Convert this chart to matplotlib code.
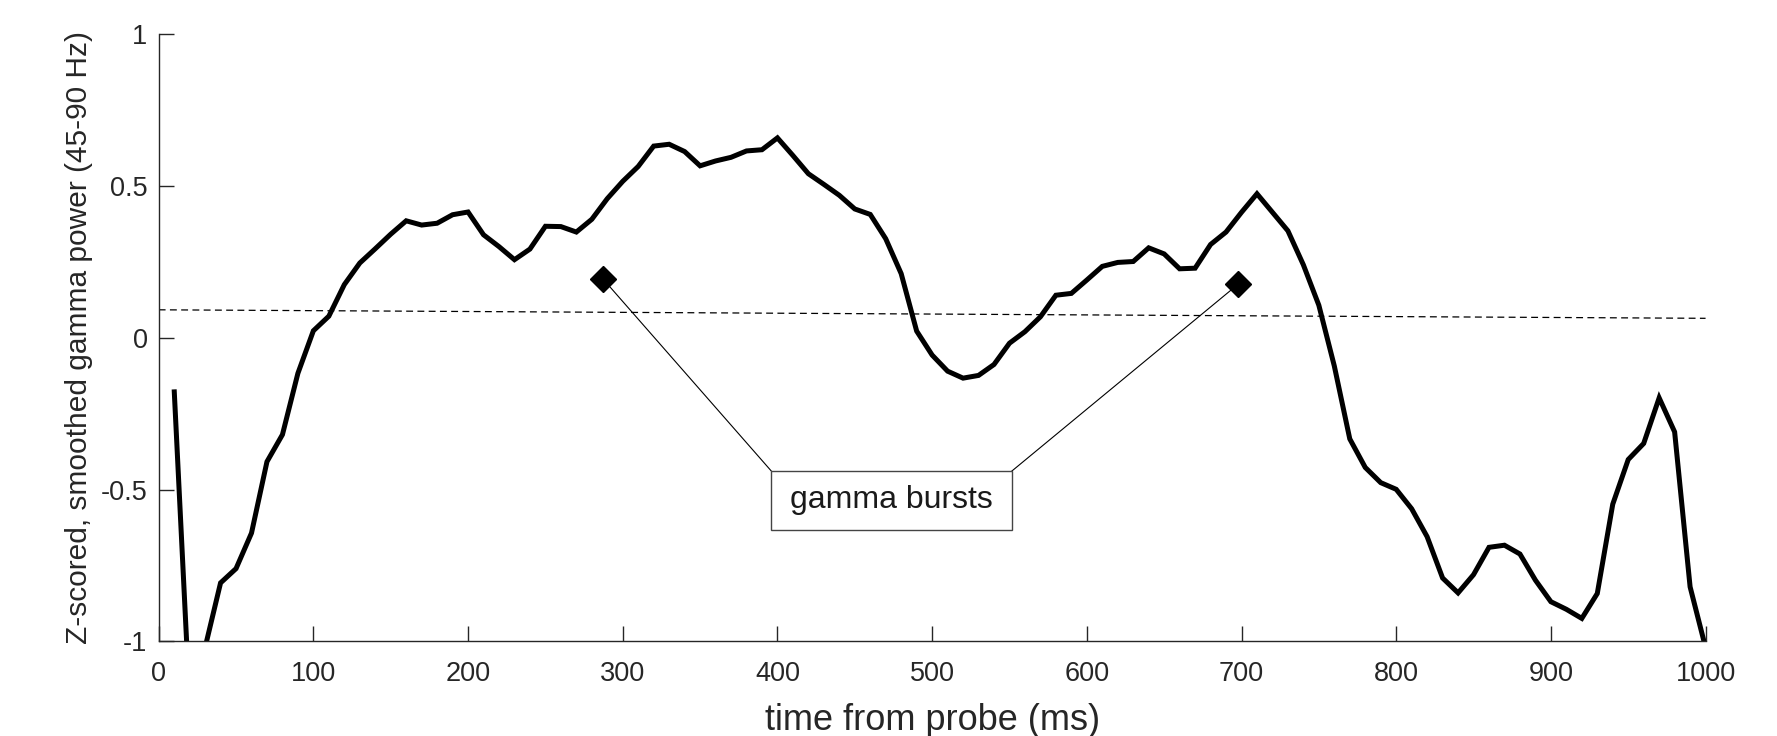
import numpy as np
import matplotlib
matplotlib.use('Agg')
import matplotlib.pyplot as plt
from matplotlib.patches import Rectangle

plt.rcParams['font.family'] = ['Liberation Sans', 'DejaVu Sans']

# z-scored gamma power, one sample every 10 ms
time_ms = np.arange(10, 1001, 10)
gamma_z = [
    -0.17, -1.20, -1.02, -0.807, -0.76, -0.643, -0.408, -0.319, -0.117, 0.023,
    0.071, 0.175, 0.246, 0.293, 0.341, 0.385, 0.371, 0.377, 0.405, 0.414,
    0.339, 0.300, 0.257, 0.292, 0.367, 0.366, 0.348, 0.390, 0.458, 0.515,
    0.564, 0.631, 0.637, 0.613, 0.566, 0.582, 0.594, 0.615, 0.619, 0.658,
    0.600, 0.540, 0.505, 0.469, 0.424, 0.406, 0.326, 0.211, 0.022, -0.057,
    -0.110, -0.133, -0.124, -0.088, -0.018, 0.020, 0.069, 0.140, 0.146, 0.190,
    0.235, 0.248, 0.251, 0.296, 0.276, 0.227, 0.229, 0.307, 0.348, 0.413,
    0.474, 0.413, 0.352, 0.240, 0.107, -0.093, -0.333, -0.427, -0.477, -0.499,
    -0.563, -0.655, -0.791, -0.840, -0.780, -0.690, -0.683, -0.712, -0.798, -0.869,
    -0.894, -0.924, -0.842, -0.548, -0.401, -0.348, -0.198, -0.310, -0.820, -1.02,
]

# threshold line (dashed)
thresh_t = [0, 1000]
thresh_z = [0.092, 0.064]

# burst markers
burst_t = [287.5, 698]
burst_z = [0.192, 0.177]

xticks = np.arange(0, 1001, 100)
yticks = [-1, -0.5, 0, 0.5, 1]
ytick_labels = ['-1', '-0.5', '0', '0.5', '1']

axcol = '#262626'

fig = plt.figure(figsize=(17.77, 7.36), dpi=100)
ax = fig.add_axes([0.0893, 0.1284, 0.8705, 0.8254])

ax.plot(thresh_t, thresh_z, color='k', lw=0.9, dashes=(5.5, 3.5))
ax.plot(time_ms, gamma_z, color='k', lw=3.6, solid_capstyle='butt', solid_joinstyle='miter')

# annotation box and connectors
box_x0, box_x1 = 396, 551.6
box_y0, box_y1 = -0.633, -0.4386
ax.plot([burst_t[0], box_x0], [burst_z[0], box_y1], color='k', lw=0.8)
ax.plot([burst_t[1], box_x1], [burst_z[1], box_y1], color='k', lw=0.8)
ax.add_patch(Rectangle((box_x0, box_y0), box_x1 - box_x0, box_y1 - box_y0,
                       facecolor='white', edgecolor='#444444', lw=1.0, zorder=3))
ax.text((box_x0 + box_x1) / 2, (box_y0 + box_y1) / 2, 'gamma bursts',
        ha='center', va='center', fontsize=23, color='#1a1a1a', zorder=4)
ax.plot(burst_t, burst_z, linestyle='none', marker='D', markersize=13.5,
        color='k', markeredgewidth=1, zorder=5)

ax.set_xlim(0, 1000)
ax.set_ylim(-1, 1)
ax.set_xticks(xticks)
ax.set_yticks(yticks)
ax.set_yticklabels(ytick_labels)

for s in ['top', 'right']:
    ax.spines[s].set_visible(False)
for s in ['left', 'bottom']:
    ax.spines[s].set_color(axcol)
    ax.spines[s].set_linewidth(1.0)

ax.tick_params(direction='in', length=11, width=1.0, color=axcol,
               labelcolor=axcol, labelsize=19.5)
ax.tick_params(axis='x', pad=14)
ax.tick_params(axis='y', pad=8)

ax.set_xlabel('time from probe (ms)', fontsize=26, color=axcol)
ax.xaxis.set_label_coords(0.5, -0.101)
ax.xaxis.label.set_va('top')
ax.set_ylabel('Z-scored, smoothed gamma power (45-90 Hz)', fontsize=21.5, color=axcol)
ax.yaxis.set_label_coords(-0.0426, 0.5)

fig.savefig('out.png', dpi=100, facecolor='white')
